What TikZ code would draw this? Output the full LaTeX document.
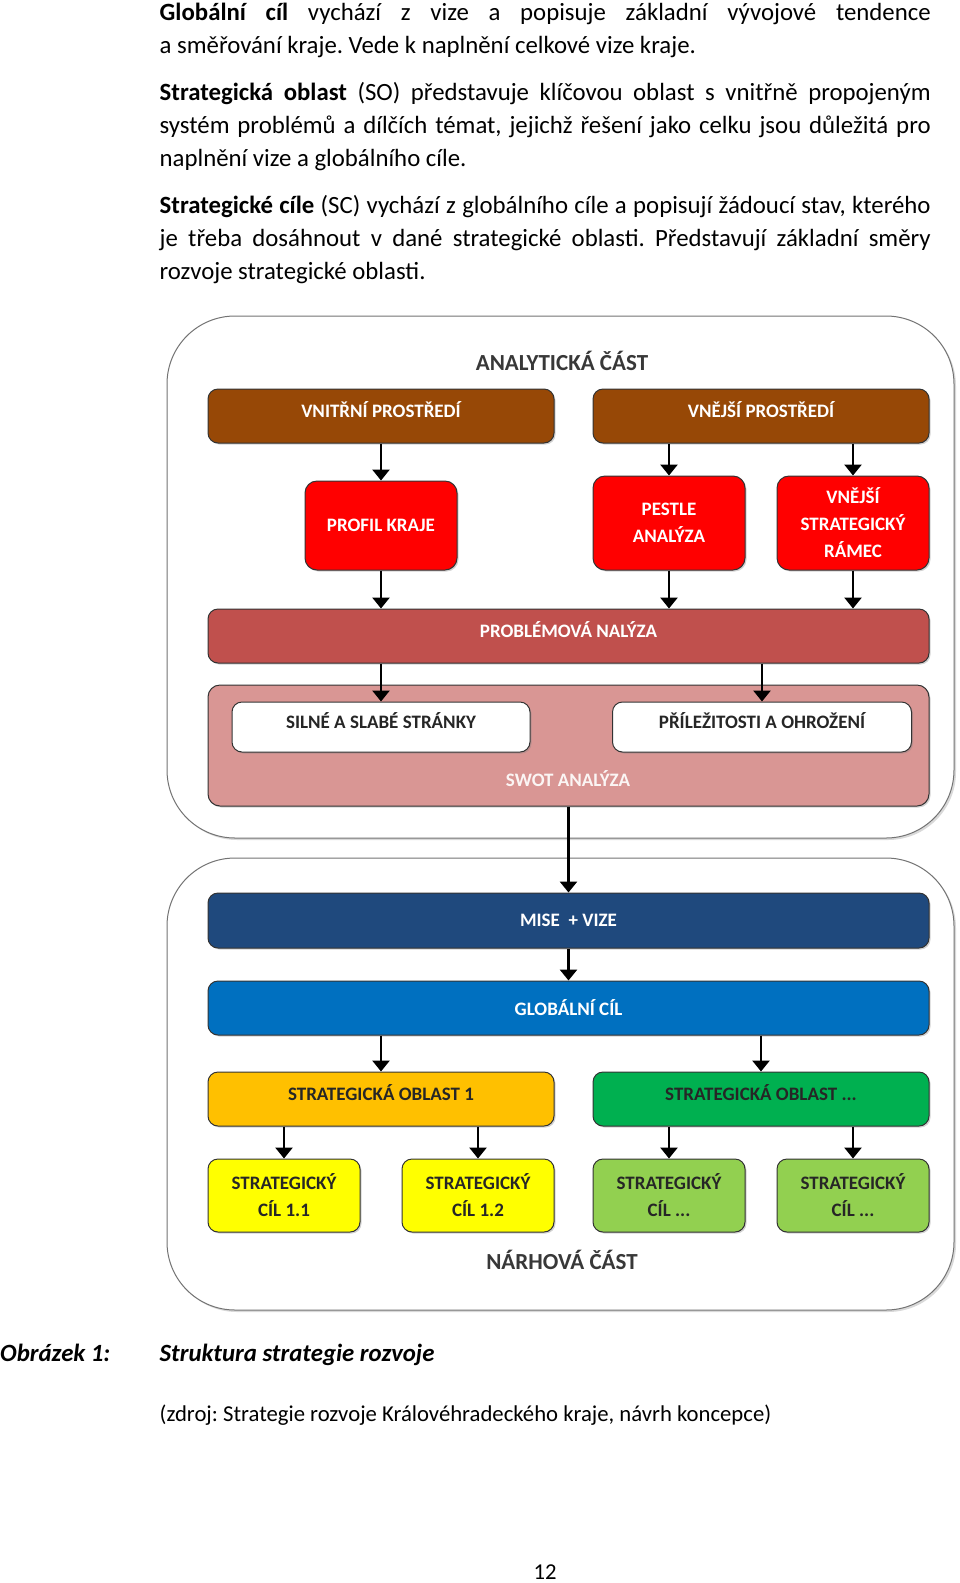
\documentclass[tikz,border=0pt]{standalone}
\usepackage{fontspec}
\setmainfont{Carlito}
\usetikzlibrary{positioning,shadows,arrows.meta}
\definecolor{hneda}{RGB}{151,72,6}
\definecolor{cervena}{RGB}{255,0,0}
\definecolor{problem}{RGB}{192,80,77}
\definecolor{swotbg}{RGB}{217,150,148}
\definecolor{tmmodra}{RGB}{31,73,125}
\definecolor{modra}{RGB}{0,112,192}
\definecolor{oranzova}{RGB}{255,192,0}
\definecolor{zelena}{RGB}{0,176,80}
\definecolor{zluta}{RGB}{255,255,0}
\definecolor{svzelena}{RGB}{146,208,80}
\definecolor{nadpis}{RGB}{56,56,56}
\frenchspacing

\begin{document}
\begin{tikzpicture}[x=1pt,y=-1pt,
        box/.style={draw=black!80,line width=1pt,rounded corners=10pt,align=center,inner sep=0pt,
                font=\fontsize{19}{27}\selectfont\bfseries,
                drop shadow={shadow xshift=1.5pt,shadow yshift=-1.5pt,opacity=0.35}},
        vys/.style={text height=16pt,text depth=12.5pt},
        sipka/.style={-{Triangle[width=17pt,length=11pt]},line width=2.8pt},
        okraj/.style={draw=black!55,line width=1pt,rounded corners=68pt,
                drop shadow={shadow xshift=2pt,shadow yshift=-2pt,opacity=0.3}},
        radek/.style={anchor=base west,inner sep=0pt,font=\fontsize{24.8}{33}\selectfont},
        popis/.style={font=\fontsize{23}{27}\selectfont\bfseries,text=nadpis}]
        \useasboundingbox (0,0) rectangle (960,1583);

        \node [radek] (r1) at (159.5,20) {\makebox[771pt][s]{\textbf{Globální cíl} vychází z vize a popisuje základní vývojové tendence}};
        \node [radek] (r2) at (159.5,53) {a směřování kraje. Vede k naplnění celkové vize kraje.};
        \node [radek] (r3) at (159.5,100) {\makebox[771pt][s]{\textbf{Strategická oblast} (SO) představuje klíčovou oblast s vnitřně propojeným}};
        \node [radek] (r4) at (159.5,133) {\makebox[771pt][s]{systém problémů a dílčích témat, jejichž řešení jako celku jsou důležitá pro}};
        \node [radek] (r5) at (159.5,166) {naplnění vize a globálního cíle.};
        \node [radek] (r6) at (159.5,213) {\makebox[771pt][s]{\textbf{Strategické cíle} (SC) vychází z globálního cíle a popisují žádoucí stav, kterého}};
        \node [radek] (r7) at (159.5,246) {\makebox[771pt][s]{je třeba dosáhnout v dané strategické oblasti. Představují základní směry}};
        \node [radek] (r8) at (159.5,279) {rozvoje strategické oblasti.};

        \draw [okraj,fill=white] (167,316) rectangle (954,838);
        \draw [okraj,fill=white] (167,858) rectangle (954,1310);

        \node [popis] (analyt) at (562,361) {ANALYTICKÁ ČÁST};
        \node [box,vys,fill=hneda,text=white,minimum width=346pt,minimum height=54pt] (vnitrni) at (381,416) {VNITŘNÍ PROSTŘEDÍ};
        \node [box,vys,fill=hneda,text=white,minimum width=336pt,minimum height=54pt] (vnejsi) at (761,416) {VNĚJŠÍ PROSTŘEDÍ};
        \node [box,fill=cervena,text=white,minimum width=152pt,minimum height=89pt,rounded corners=12pt] (profil) at (381,525.5) {PROFIL KRAJE};
        \node [box,fill=cervena,text=white,minimum width=152pt,minimum height=94pt,rounded corners=12pt] (pestle) at (669,523) {PESTLE\\ANALÝZA};
        \node [box,fill=cervena,text=white,minimum width=152pt,minimum height=94pt,rounded corners=12pt] (ramec) at (853,523) {VNĚJŠÍ\\STRATEGICKÝ\\RÁMEC};
        \node [box,vys,fill=problem,text=white,minimum width=721pt,minimum height=54pt] (problem) at (568.5,636) {PROBLÉMOVÁ NALÝZA};
        \node [box,fill=swotbg,minimum width=721pt,minimum height=121pt,rounded corners=12pt] (swot) at (568.5,745.5) {};
        \node [box,vys,fill=white,text=black!85,minimum width=298pt,minimum height=50pt,drop shadow={opacity=0}] (silne) at (381,727) {SILNÉ A SLABÉ STRÁNKY};
        \node [box,vys,fill=white,text=black!85,minimum width=299pt,minimum height=50pt,drop shadow={opacity=0}] (prilez) at (762,727) {PŘÍLEŽITOSTI A OHROŽENÍ};
        \node [font=\fontsize{19}{27}\selectfont\bfseries,text=white!90!swotbg] (swotlbl) at (568,779) {SWOT ANALÝZA};

        \node [box,fill=tmmodra,text=white,minimum width=721pt,minimum height=55pt] (mise) at (568.5,920.5) {MISE \ + VIZE};
        \node [box,fill=modra,text=white,minimum width=721pt,minimum height=54pt] (glob) at (568.5,1008) {GLOBÁLNÍ CÍL};
        \node [box,vys,fill=oranzova,text=black!85,minimum width=346pt,minimum height=54pt] (so1) at (381,1099) {STRATEGICKÁ OBLAST 1};
        \node [box,vys,fill=zelena,text=black!85,minimum width=336pt,minimum height=54pt] (sox) at (761,1099) {STRATEGICKÁ OBLAST ...};
        \node [box,fill=zluta,text=black!85,minimum width=152pt,minimum height=73pt] (sc11) at (284,1195.5) {STRATEGICKÝ\\CÍL 1.1};
        \node [box,fill=zluta,text=black!85,minimum width=152pt,minimum height=73pt] (sc12) at (478,1195.5) {STRATEGICKÝ\\CÍL 1.2};
        \node [box,fill=svzelena,text=black!85,minimum width=152pt,minimum height=73pt] (scxa) at (669,1195.5) {STRATEGICKÝ\\CÍL ...};
        \node [box,fill=svzelena,text=black!85,minimum width=152pt,minimum height=73pt] (scxb) at (853,1195.5) {STRATEGICKÝ\\CÍL ...};
        \node [popis] (navrh) at (562,1260) {NÁRHOVÁ ČÁST};

        \draw [sipka] (vnitrni.south) -- (profil.north);
        \draw [sipka] (vnejsi.south -| pestle.north) -- (pestle.north);
        \draw [sipka] (vnejsi.south -| ramec.north) -- (ramec.north);
        \draw [sipka] (profil.south) -- (profil.south |- problem.north);
        \draw [sipka] (pestle.south) -- (pestle.south |- problem.north);
        \draw [sipka] (ramec.south) -- (ramec.south |- problem.north);
        \draw [sipka] (problem.south -| silne.north) -- (silne.north);
        \draw [sipka] (problem.south -| prilez.north) -- (prilez.north);
        \draw [sipka] (swot.south) -- (mise.north);
        \draw [sipka] (mise.south) -- (glob.north);
        \draw [sipka] (glob.south -| so1.north) -- (so1.north);
        \draw [sipka] (glob.south -| sox.north) -- (sox.north);
        \draw [sipka] (so1.south -| sc11.north) -- (sc11.north);
        \draw [sipka] (so1.south -| sc12.north) -- (sc12.north);
        \draw [sipka] (sox.south -| scxa.north) -- (scxa.north);
        \draw [sipka] (sox.south -| scxb.north) -- (scxb.north);

        \node [radek,font=\fontsize{24.8}{33}\selectfont\bfseries\itshape] (obr) at (0,1361) {Obrázek 1:};
        \node [radek,font=\fontsize{24.8}{33}\selectfont\bfseries\itshape] (nazev) at (159.5,1361) {Struktura strategie rozvoje};
        \node [radek,font=\fontsize{22.7}{30}\selectfont] (zdroj) at (159.5,1421) {(zdroj: Strategie rozvoje Královéhradeckého kraje, návrh koncepce)};
        \node [radek,anchor=base,font=\fontsize{22.7}{30}\selectfont] (strana) at (545,1579) {12};
\end{tikzpicture}
\end{document}
